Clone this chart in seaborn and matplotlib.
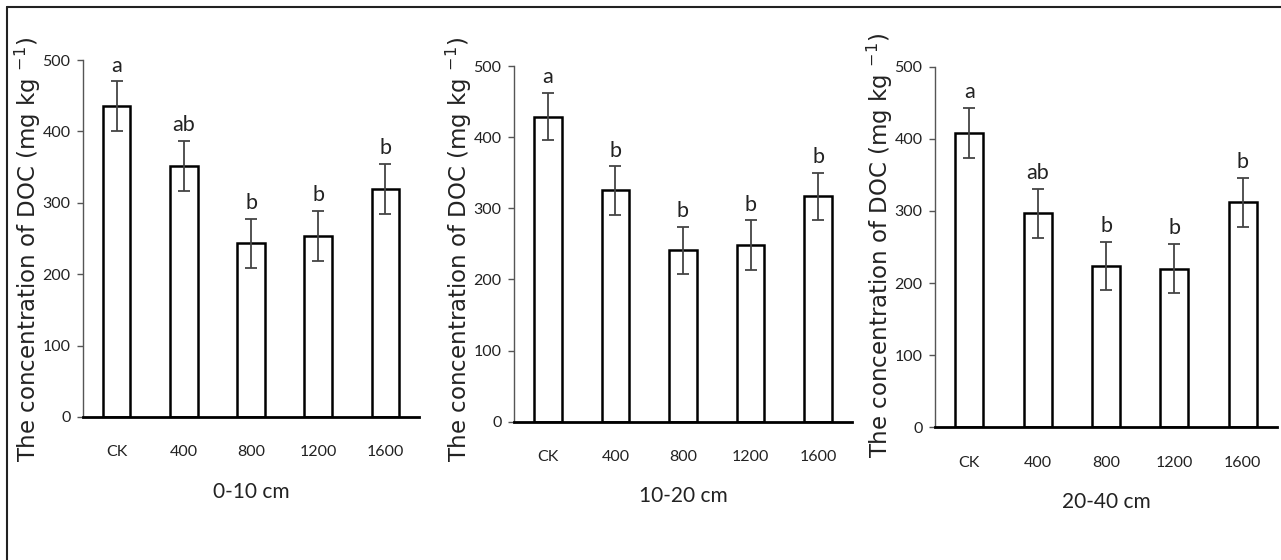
import matplotlib
matplotlib.use("Agg")
import matplotlib.pyplot as plt
from matplotlib import font_manager
import seaborn as sns
import pandas as pd
from matplotlib.lines import Line2D

sns.set_style("white")
plt.rcParams['font.family'] = ['DejaVu Sans']

categories = ["CK", "400", "800", "1200", "1600"]
depths = ["0-10 cm", "10-20 cm", "20-40 cm"]
doc_0_10 = [435, 352, 243, 254, 320]
doc_10_20 = [429, 325, 241, 248, 317]
doc_20_40 = [408, 297, 224, 220, 312]
err_0_10 = [35, 35, 35, 35, 35]
err_10_20 = [33, 34, 33, 35, 33]
err_20_40 = [35, 34, 33, 34, 34]
letters_0_10 = ["a", "ab", "b", "b", "b"]
letters_10_20 = ["a", "b", "b", "b", "b"]
letters_20_40 = ["a", "ab", "b", "b", "b"]
yticks = [0, 100, 200, 300, 400, 500]
ylabel = "The concentration of DOC (mg kg $^{-1}$)"

values = [doc_0_10, doc_10_20, doc_20_40]
errors = [err_0_10, err_10_20, err_20_40]
letters = [letters_0_10, letters_10_20, letters_20_40]

installed = {f.name for f in font_manager.fontManager.ttflist}
if "Liberation Sans Narrow" in installed:
    narrow = ["Liberation Sans Narrow", "DejaVu Sans"]
    tsz, lsz, xsz = 12.5, 15.5, 15
else:
    narrow = ["Lato", "DejaVu Sans"]
    tsz, lsz, xsz = 11.5, 15.5, 15

fig = plt.figure(figsize=(12.81, 5.6), dpi=100)
W, H = 1281, 560
# (left px, right px, y0 px, y500 px, ylabel x offset, ylabel y)
layout = [
    (83, 419, 417, 60, -0.118, 0.468),
    (514, 852, 421.7, 66, -0.117, 0.483),
    (935, 1277, 427.3, 66.7, -0.116, 0.505),
]

for i, (l, r, y0, y5, lx, ly) in enumerate(layout):
    ax = fig.add_axes([l / W, 1 - y0 / H, (r - l) / W, (y0 - y5) / H])
    df = pd.DataFrame({"treatment": categories, "doc": values[i]})
    sns.barplot(data=df, x="treatment", y="doc", order=categories, ax=ax,
                color="white", edgecolor="black", linewidth=1.8, width=0.41,
                errorbar=None)
    ax.errorbar(range(len(categories)), values[i], yerr=errors[i], fmt="none",
                ecolor="#444444", elinewidth=1.3, capsize=4, capthick=1.3)
    for j, (v, e, t) in enumerate(zip(values[i], errors[i], letters[i])):
        ax.text(j, v + e + 8, t, ha="center", va="bottom", fontsize=lsz,
                family=narrow, color="#222222")
    ax.set_xlim(-0.5, len(categories) - 0.5)
    ax.set_ylim(0, 500)
    ax.set_yticks(yticks)
    ax.set_yticklabels([str(t) for t in yticks], family=narrow, fontsize=tsz)
    ax.set_xticks(range(len(categories)))
    ax.set_xticklabels(categories, family=narrow, fontsize=tsz)
    for s in ["top", "right"]:
        ax.spines[s].set_visible(False)
    ax.spines["left"].set_color("#555555")
    ax.spines["left"].set_linewidth(1.0)
    ax.spines["bottom"].set_color("black")
    ax.spines["bottom"].set_linewidth(2.0)
    ax.tick_params(axis="y", left=True, length=4, width=1, color="#555555",
                   pad=5, labelcolor="#222222")
    ax.tick_params(axis="x", bottom=False, pad=17, labelcolor="#222222")
    ax.set_xlabel(depths[i], family=narrow, fontsize=xsz, labelpad=16,
                  color="#222222")
    ax.set_ylabel(ylabel, fontsize=16.5, color="#222222")
    ax.yaxis.set_label_coords(lx, ly)

# figure frame lines (top and left)
fig.add_artist(Line2D([7 / W, 1], [1 - 7 / H, 1 - 7 / H], transform=fig.transFigure,
                      color="#222222", linewidth=1.5))
fig.add_artist(Line2D([7 / W, 7 / W], [0, 1 - 7 / H], transform=fig.transFigure,
                      color="#222222", linewidth=1.5))

fig.savefig("out.png", dpi=100)
